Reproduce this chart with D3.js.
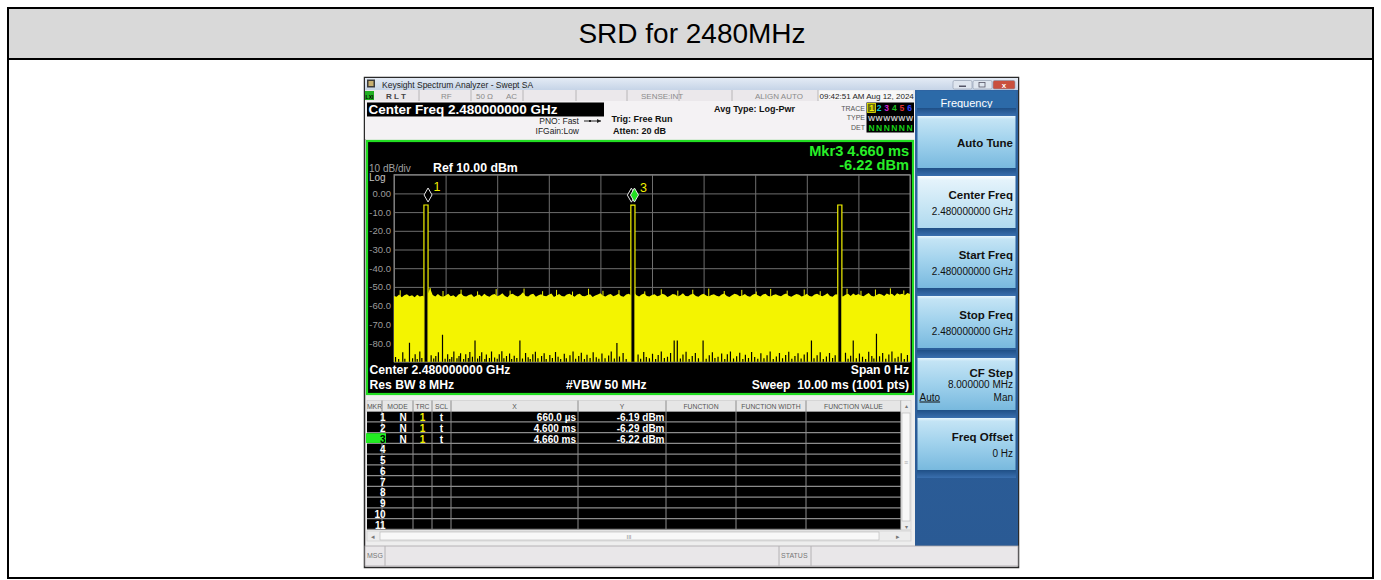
<!DOCTYPE html>
<html>
<head>
<meta charset="utf-8">
<script src="https://cdn.jsdelivr.net/npm/d3@7"></script>
<style>
body { margin: 0; background: #fff; }
svg { display: block; font-family: "Liberation Sans", Arial, sans-serif; }
</style>
</head>
<body>
<svg id="chart" width="1381" height="580"></svg>
<script>
//* Data *//

const pageTitle = "SRD for 2480MHz";

// sweep: 0..10 ms, ref 10 dBm, 10 dB/div
const sweepDomain = [0, 10];
const levelDomain = [-90, 10];
const yTickValues = [0, -10, -20, -30, -40, -50, -60, -70, -80];

// burst pulses (ms) and their level (dBm)
const pulseStart = [0.58, 4.59, 8.60];
const pulseEnd = [0.66, 4.67, 8.68];
const pulseLevel = [-6.19, -6.29, -6.20];

// markers
const markerTime = [0.66, 4.60, 4.66];
const markerLevel = [-6.19, -6.29, -6.22];
const markerXText = ["660.0 \u00b5s", "4.600 ms", "4.660 ms"];
const markerYText = ["-6.19 dBm", "-6.29 dBm", "-6.22 dBm"];

// noise floor top, one value every 0.05 ms (dBm)
const noiseStep = 0.05;
const noiseTop = [
  -54.8,-55.3,-54.1,-55.6,-54.5,-53.9,-55.0,-54.4,-55.5,-54.2,-55.1,-54.7,-55.4,-54.0,-50.9,-54.3,-55.2,-53.8,-54.9,-55.3,
  -54.6,-53.7,-55.0,-54.4,-55.6,-54.1,-53.5,-54.8,-55.2,-54.3,-53.9,-55.4,-54.6,-54.0,-55.1,-53.6,-54.7,-55.3,-54.2,-53.8,
  -55.0,-54.5,-53.4,-54.9,-55.5,-54.0,-53.7,-54.6,-55.2,-54.3,-52.8,-54.8,-55.1,-54.1,-53.6,-55.3,-54.4,-53.9,-54.7,-55.0,
  -54.2,-53.5,-55.4,-54.6,-53.8,-54.9,-55.2,-54.0,-53.7,-54.5,-55.3,-54.1,-53.6,-54.8,-55.0,-54.3,-53.9,-55.4,-54.6,-54.0,
  -53.4,-54.7,-55.2,-54.2,-53.8,-55.0,-54.5,-53.6,-54.9,-55.3,-54.1,-53.7,-54.6,-52.9,-54.4,-55.1,-54.0,-53.5,-54.8,-55.2,
  -54.3,-53.9,-55.0,-54.6,-53.6,-54.2,-55.4,-54.7,-53.8,-54.1,-55.2,-54.5,-53.4,-54.8,-55.0,-54.0,-53.7,-54.9,-55.3,-54.2,
  -53.6,-54.6,-55.1,-54.3,-53.9,-54.7,-55.2,-54.0,-53.5,-54.8,-55.4,-54.4,-53.7,-54.1,-55.0,-54.6,-53.8,-54.9,-55.3,-54.2,
  -53.6,-54.5,-55.1,-54.0,-53.7,-54.8,-55.2,-54.3,-53.9,-54.6,-55.0,-54.1,-53.5,-54.7,-55.3,-54.4,-53.8,-54.2,-55.1,-54.6,
  -53.7,-54.9,-55.2,-54.0,-53.6,-54.5,-55.0,-54.3,-53.4,-54.8,-55.3,-54.1,-53.9,-54.6,-55.1,-54.2,-53.7,-54.9,-53.5,-54.4,
  -53.8,-54.6,-55.0,-54.1,-53.3,-54.7,-55.2,-54.3,-53.6,-54.0,-54.8,-53.5,-54.2,-53.7,-54.9,-53.4,-54.1,-53.6,-54.5,-53.3,
  -53.8
];

// thin spikes poking above the noise top (ms, dBm)
const spikeTime = [0.12,0.70,0.95,1.30,1.62,1.98,2.25,2.52,2.88,3.15,3.46,3.77,4.05,4.36,4.86,5.18,5.50,5.79,6.10,6.40,
  6.74,7.02,7.30,7.62,7.95,8.26,8.78,9.05,9.33,9.62,9.88];
const spikeLevel = [-51.8,-50.6,-52.2,-51.5,-52.4,-51.2,-52.0,-50.9,-52.3,-51.6,-52.5,-51.0,-52.1,-51.7,-52.4,-51.3,-52.0,-51.5,-50.9,-52.2,
  -51.6,-52.5,-51.1,-52.0,-51.4,-52.3,-51.0,-52.1,-51.4,-50.8,-51.9];

// dark gaps at the foot of the noise: time (ms) and top of gap (dBm)
const gapTime = [0.03,0.09,0.17,0.21,0.30,0.36,0.41,0.45,0.50,0.54,0.72,0.77,0.81,0.86,0.94,0.99,1.04,1.08,1.12,1.16,
  1.22,1.26,1.29,1.35,1.39,1.44,1.47,1.52,1.57,1.62,1.66,1.70,1.76,1.79,1.85,1.89,1.95,2.00,2.04,2.09,
  2.13,2.18,2.24,2.28,2.33,2.38,2.44,2.49,2.55,2.60,2.64,2.69,2.74,2.79,2.86,2.91,2.95,3.02,3.07,3.13,
  3.18,3.23,3.30,3.34,3.41,3.47,3.52,3.58,3.63,3.69,3.74,3.80,3.86,3.92,3.97,4.03,4.09,4.16,4.21,4.27,
  4.32,4.37,4.44,4.50,4.73,4.78,4.84,4.89,4.95,5.01,5.07,5.12,5.18,5.24,5.30,5.36,5.43,5.49,5.55,5.60,
  5.66,5.72,5.78,5.84,5.90,5.99,6.05,6.11,6.17,6.22,6.28,6.35,6.41,6.46,6.52,6.58,6.64,6.70,6.76,6.81,
  6.87,6.93,6.99,7.05,7.11,7.17,7.23,7.29,7.35,7.41,7.47,7.53,7.59,7.65,7.71,7.77,7.83,7.89,7.95,8.01,
  8.09,8.14,8.20,8.26,8.32,8.38,8.44,8.50,8.55,8.75,8.80,8.85,8.90,8.96,9.02,9.08,9.14,9.20,9.26,9.30,
  9.35,9.41,9.47,9.53,9.59,9.65,9.71,9.77,9.83,9.89,9.95];
const gapLevel = [-87.5,-88.6,-85,-88.4,-79.8,-88.2,-86,-88.5,-84.5,-88,-86.5,-88.3,-87,-85,-75.6,-88.4,-86,-88.6,-87.5,-84.5,
  -88.2,-87,-85.5,-88.5,-86,-88,-84.8,-87.4,-78.6,-88.3,-87,-85,-88.5,-86.2,-88,-84.6,-87.8,-88.4,-86,-84.4,
  -88.2,-87,-85.6,-88.5,-86.8,-88,-78.6,-88.3,-85.4,-87.6,-88.5,-86,-84.7,-88.2,-87,-85.5,-88.6,-86.4,-88,-84.8,
  -87.3,-88.5,-85.8,-88.2,-86.6,-84.5,-88.4,-87,-85.2,-88.5,-86.3,-88,-84.9,-87.6,-88.4,-85.6,-88.1,-86.7,-84.6,-88.3,
  -80,-87.2,-85.3,-88.5,-86.2,-88.4,-84.8,-87.5,-88.2,-85.7,-88.5,-86.4,-84.6,-88,-87.3,-85.4,-78.6,-78.6,-88.3,-86.1,
  -84.7,-88.5,-87,-85.3,-88.2,-78.6,-88.4,-86.5,-84.9,-88,-87.4,-85.6,-88.5,-86,-84.5,-88.3,-87.1,-85.2,-88.6,-86.3,
  -88,-84.8,-87.5,-88.4,-85.5,-88.2,-86.6,-84.6,-88.5,-87.2,-85.3,-88.1,-86.4,-84.7,-88.4,-87,-85.5,-88.3,-86.1,-84.9,
  -78.6,-88.2,-86.5,-85,-88.5,-87.2,-85.4,-88,-86.6,-85.2,-88.4,-86.8,-78.6,-88.2,-85.6,-87.4,-88.5,-84.7,-86.9,-88.3,
  -75,-87.1,-85.4,-88.4,-86.2,-84.6,-88.1,-87.3,-85.5,-88.5,-86.4];

// marker table
const tableHeaders = ["MKR", "MODE", "TRC", "SCL", "X", "Y", "FUNCTION", "FUNCTION WIDTH", "FUNCTION VALUE"];
const tableEdges = [367, 382, 413, 432, 451, 578, 666, 736, 806, 901];
const tableRows = [1, 2, 3, 4, 5, 6, 7, 8, 9, 10, 11];

// softkeys
const softkeyTitle = ["Auto Tune", "Center Freq", "Start Freq", "Stop Freq", "CF Step", "Freq Offset"];
const softkeyValue = ["", "2.480000000 GHz", "2.480000000 GHz", "2.480000000 GHz", "8.000000 MHz", "0 Hz"];
const softkeyTop = [116, 176, 236, 296, 358, 418];

// status line
const statusText = ["R L T", "RF", "50 \u03a9", "AC", "SENSE:INT", "ALIGN AUTO"];
const statusX = [386, 441, 476, 506, 641, 755];
const statusEdges = [419, 471, 523, 576, 627, 679, 732, 818];

const traceNums = ["1", "2", "3", "4", "5", "6"];
const traceColors = ["#f0f000", "#10c8d0", "#d020d0", "#20c020", "#e03030", "#3040ff"];

//* Chart code *//

const svg = d3.select("#chart");
const defs = svg.append("defs");

function grad(id, stops) {
  const g = defs.append("linearGradient").attr("id", id)
      .attr("x1", 0).attr("y1", 0).attr("x2", 0).attr("y2", 1);
  stops.forEach(function(s) {
    g.append("stop").attr("offset", s[0]).attr("stop-color", s[1]);
  });
}
grad("titlebar", [[0, "#e4ebf5"], [1, "#c6d4e7"]]);
grad("btn", [[0, "#e8f5fc"], [0.06, "#c4e4f5"], [0.5, "#9fd1ec"], [1, "#78b9de"]]);
grad("btnSel", [[0, "#ffffff"], [0.08, "#e4f3fb"], [1, "#b0daef"]]);
grad("panel", [[0, "#2e64a2"], [1, "#2a5a94"]]);
grad("gap", [[0, "#1f4f86"], [1, "#3a6fae"]]);

function label(parent, x, y, str, size, fill, weight, anchor) {
  return parent.append("text")
      .attr("x", x).attr("y", y)
      .attr("font-size", size + "px")
      .attr("fill", fill)
      .attr("font-weight", weight || "normal")
      .attr("text-anchor", anchor || "start")
      .text(str);
}

// page frame + title row
svg.append("rect").attr("x", 8).attr("y", 8).attr("width", 1365).attr("height", 51).attr("fill", "#d9d9d9");
svg.append("rect").attr("x", 8).attr("y", 8).attr("width", 1365).attr("height", 570)
    .attr("fill", "none").attr("stroke", "#000").attr("stroke-width", 2);
svg.append("line").attr("x1", 8).attr("x2", 1373).attr("y1", 59).attr("y2", 59)
    .attr("stroke", "#000").attr("stroke-width", 2);
label(svg, 692, 43, pageTitle, 28, "#000", "normal", "middle");

// analyzer window
const win = svg.append("g");
win.append("rect").attr("x", 364.5).attr("y", 77.5).attr("width", 654).attr("height", 490)
    .attr("fill", "#efedef").attr("stroke", "#2a2a2a").attr("stroke-width", 1.5);

// title bar
win.append("rect").attr("x", 365).attr("y", 78).attr("width", 653).attr("height", 12).attr("fill", "url(#titlebar)");
win.append("rect").attr("x", 367).attr("y", 79.5).attr("width", 8).attr("height", 8).attr("fill", "#3a3a3a");
win.append("rect").attr("x", 368.5).attr("y", 81).attr("width", 5).attr("height", 5).attr("fill", "#c8b070");
label(win, 382, 87.5, "Keysight Spectrum Analyzer - Swept SA", 8.5, "#222");
[[953, "#dfe6ef"], [973, "#dfe6ef"], [993, "#c9503e"]].forEach(function(b, i) {
  win.append("rect").attr("x", b[0]).attr("y", 80.5).attr("width", i === 2 ? 22 : 19).attr("height", 8.5)
      .attr("rx", 1.5).attr("fill", b[1]).attr("stroke", "#8a96a8").attr("stroke-width", 0.6);
});
win.append("rect").attr("x", 959).attr("y", 85.5).attr("width", 7).attr("height", 1.5).attr("fill", "#556");
win.append("rect").attr("x", 979).attr("y", 82.5).attr("width", 6).attr("height", 4.5).attr("fill", "none").attr("stroke", "#556").attr("stroke-width", 0.8);
label(win, 1004, 87.5, "x", 8, "#fff", "bold", "middle");

// status line
win.append("rect").attr("x", 365).attr("y", 90).attr("width", 550).attr("height", 11).attr("fill", "#ebe8eb");
win.append("rect").attr("x", 818).attr("y", 90.5).attr("width", 95).attr("height", 10).attr("fill", "#f7f7f7");
statusEdges.forEach(function(e) {
  win.append("line").attr("x1", e).attr("x2", e).attr("y1", 90).attr("y2", 101).attr("stroke", "#b8b6b8");
});
win.append("rect").attr("x", 365).attr("y", 91).attr("width", 9).attr("height", 9).attr("fill", "#22b022");
label(win, 369.5, 98.5, "LXI", 5, "#000", "bold", "middle");
statusText.forEach(function(s, i) {
  label(win, statusX[i], 98.5, s, 8, i === 0 ? "#444" : "#8a8a8a", i === 0 ? "bold" : "normal");
});
label(win, 819.5, 98.5, "09:42:51 AM Aug 12, 2024", 8, "#222");

// settings row
win.append("rect").attr("x", 365).attr("y", 101).attr("width", 550).attr("height", 38).attr("fill", "#f4f2f4");
win.append("rect").attr("x", 367).attr("y", 102.5).attr("width", 237).attr("height", 14).attr("fill", "#000");
label(win, 368.5, 113.5, "Center Freq 2.480000000 GHz", 13.5, "#fff", "bold");
label(win, 579, 124, "PNO: Fast", 8.5, "#222", "normal", "end");
label(win, 579, 133.5, "IFGain:Low", 8.5, "#222", "normal", "end");
win.append("line").attr("x1", 584).attr("x2", 601).attr("y1", 121).attr("y2", 121).attr("stroke", "#222");
win.append("path").attr("d", "M597,119 L601,121 L597,123 Z").attr("fill", "#222");
win.append("rect").attr("x", 589).attr("y", 120).attr("width", 2).attr("height", 2).attr("fill", "#222");
label(win, 611.5, 121.5, "Trig: Free Run", 9, "#111", "bold");
label(win, 613, 133.5, "Atten: 20 dB", 9, "#111", "bold");
label(win, 714, 111.5, "Avg Type: Log-Pwr", 9, "#111", "bold");

// trace / type / det box
label(win, 865, 110.5, "TRACE", 7, "#555", "normal", "end");
label(win, 865, 120.3, "TYPE", 7, "#555", "normal", "end");
label(win, 865, 130, "DET", 7, "#555", "normal", "end");
win.append("rect").attr("x", 866.5).attr("y", 102.5).attr("width", 47.5).attr("height", 30).attr("fill", "#000");
win.append("rect").attr("x", 867.5).attr("y", 103.5).attr("width", 8).attr("height", 9)
    .attr("fill", "#6a6a10").attr("stroke", "#f0f000").attr("stroke-width", 0.8);
traceNums.forEach(function(n, i) {
  label(win, 871.5 + i * 7.6, 111, n, 8.5, traceColors[i], "bold", "middle");
  label(win, 871.5 + i * 7.6, 120.5, "W", 7.5, "#c8c8c8", "bold", "middle");
  label(win, 871.5 + i * 7.6, 130.5, "N", 8.5, "#18d018", "bold", "middle");
});

//* Graph *//

const graph = win.append("g");
graph.append("rect").attr("x", 367).attr("y", 141).attr("width", 546).attr("height", 253)
    .attr("fill", "#000").attr("stroke", "#22dd22").attr("stroke-width", 2.2);

const plotLeft = 394, plotRight = 910, plotTop = 174.7, plotBottom = 361.7;

const x = d3.scaleLinear().domain(sweepDomain).range([plotLeft, plotRight]);
const y = d3.scaleLinear().domain(levelDomain).range([plotBottom, plotTop]);

defs.append("clipPath").attr("id", "plotClip").append("rect")
    .attr("x", plotLeft).attr("y", plotTop).attr("width", plotRight - plotLeft).attr("height", plotBottom - plotTop);

// gridlines via axes
const xGrid = d3.axisBottom(x).ticks(10).tickSize(-(plotBottom - plotTop)).tickFormat("");
graph.append("g").attr("class", "xgrid")
    .attr("transform", "translate(0," + plotBottom + ")")
    .call(xGrid)
    .call(function(g) { g.select(".domain").remove(); })
    .selectAll("line").attr("stroke", "#6e6e6e");

const yGrid = d3.axisLeft(y).ticks(10).tickSize(-(plotRight - plotLeft)).tickFormat("");
graph.append("g").attr("class", "ygrid")
    .attr("transform", "translate(" + plotLeft + ",0)")
    .call(yGrid)
    .call(function(g) { g.select(".domain").remove(); })
    .selectAll("line").attr("stroke", "#6e6e6e");

graph.append("rect").attr("x", plotLeft).attr("y", plotTop)
    .attr("width", plotRight - plotLeft).attr("height", plotBottom - plotTop)
    .attr("fill", "none").attr("stroke", "#8a8a8a");

// y labels
const yAxisCall = d3.axisLeft(y).tickValues(yTickValues).tickSize(0).tickPadding(3)
    .tickFormat(function(d) { return d === 0 ? "0.00" : d.toFixed(1); });
graph.append("g").attr("class", "y axis")
    .attr("transform", "translate(" + plotLeft + ",0)")
    .call(yAxisCall)
    .call(function(g) { g.select(".domain").remove(); })
    .selectAll("text")
    .attr("fill", "#9c9c9c")
    .attr("font-size", "9.5px")
    .attr("font-family", "Liberation Sans, Arial, sans-serif");

const plot = graph.append("g").attr("clip-path", "url(#plotClip)");

// noise floor
const noiseArea = d3.area()
    .x(function(d, i) { return x(i * noiseStep); })
    .y0(plotBottom + 1)
    .y1(function(d) { return y(d); });
plot.append("path").datum(noiseTop).attr("d", noiseArea).attr("fill", "#f4f400");

// spikes over the noise top
plot.selectAll("line.spike")
    .data(spikeTime)
    .enter().append("line")
    .attr("class", "spike")
    .attr("x1", function(d) { return x(d); })
    .attr("x2", function(d) { return x(d); })
    .attr("y1", y(-56))
    .attr("y2", function(d, i) { return y(spikeLevel[i]); })
    .attr("stroke", "#f4f400")
    .attr("stroke-width", 1);

// gaps at the foot
plot.selectAll("line.gap")
    .data(gapTime)
    .enter().append("line")
    .attr("class", "gap")
    .attr("x1", function(d) { return x(d); })
    .attr("x2", function(d) { return x(d); })
    .attr("y1", plotBottom + 1)
    .attr("y2", function(d, i) { return y(gapLevel[i]); })
    .attr("stroke", "#000")
    .attr("stroke-width", 1.2);

// pulses
pulseStart.forEach(function(t0, i) {
  const x0 = x(t0), x1 = x(pulseEnd[i]), yt = y(pulseLevel[i]);
  plot.append("rect").attr("x", x0).attr("y", yt).attr("width", x1 - x0).attr("height", plotBottom - yt + 1)
      .attr("fill", "#000");
  plot.append("path")
      .attr("d", "M" + x0 + "," + (plotBottom + 1) + " L" + x0 + "," + yt + " L" + x1 + "," + yt + " L" + x1 + "," + (plotBottom + 1))
      .attr("fill", "none").attr("stroke", "#f4f400").attr("stroke-width", 1.2);
});

// markers (label hidden when the next marker sits on top of it)
markerTime.forEach(function(t, i) {
  const cx = x(t), tip = y(markerLevel[i]) - 3;
  graph.append("path")
      .attr("d", "M" + cx + "," + tip + " L" + (cx + 4) + "," + (tip - 7) + " L" + cx + "," + (tip - 14) + " L" + (cx - 4) + "," + (tip - 7) + " Z")
      .attr("fill", i === 2 ? "#20e020" : "#000")
      .attr("stroke", "#e6e6e6")
      .attr("stroke-width", 1);
  const next = markerTime[i + 1];
  if (next !== undefined && x(next) - cx < 8) return;
  label(graph, cx + 5.5, tip - 10.5, String(i + 1), 12.5, "#f0f000", "normal");
});

// graph annotations
label(graph, 369, 171.5, "10 dB/div", 10, "#a0a0a0");
label(graph, 369, 181, "Log", 10, "#c4c4c4");
label(graph, 433, 172, "Ref 10.00 dBm", 12.3, "#fff", "bold");
label(graph, 909, 155.5, "Mkr3 4.660 ms", 14.6, "#28ee28", "bold", "end");
label(graph, 909, 169.5, "-6.22 dBm", 14.6, "#28ee28", "bold", "end");
label(graph, 369.5, 374, "Center 2.480000000 GHz", 12.2, "#fff", "bold");
label(graph, 369.5, 388.5, "Res BW 8 MHz", 12.2, "#fff", "bold");
label(graph, 566, 388.5, "#VBW 50 MHz", 12.2, "#fff", "bold");
label(graph, 909, 374, "Span 0 Hz", 12.2, "#fff", "bold", "end");
label(graph, 909, 388.5, "Sweep\u00a0\u00a010.00 ms (1001 pts)", 12.2, "#fff", "bold", "end");

//* Marker table *//

const table = win.append("g");
const headTop = 400.5, rowTop = 411.7, rowH = 10.75;
const tableBottom = rowTop + rowH * tableRows.length;

table.append("rect").attr("x", 366).attr("y", 396).attr("width", 549).attr("height", 150).attr("fill", "#eeeeee");
table.append("rect").attr("x", 367).attr("y", headTop).attr("width", 534).attr("height", rowTop - headTop)
    .attr("fill", "#e6e6e6").attr("stroke", "#c8c8c8").attr("stroke-width", 0.6);
table.append("rect").attr("x", 367).attr("y", rowTop).attr("width", 534).attr("height", tableBottom - rowTop)
    .attr("fill", "#000");

tableHeaders.forEach(function(h, i) {
  const cx = (tableEdges[i] + tableEdges[i + 1]) / 2;
  label(table, cx, rowTop - 3, h, 6.8, "#555", "normal", "middle");
});

// row lines
tableRows.forEach(function(r, i) {
  table.append("line").attr("x1", 367).attr("x2", 901)
      .attr("y1", rowTop + rowH * (i + 1) - 0.5).attr("y2", rowTop + rowH * (i + 1) - 0.5)
      .attr("stroke", "#8c8c8c").attr("stroke-width", 1.2);
});
tableEdges.forEach(function(e, i) {
  if (i === 0) return;
  table.append("line").attr("x1", e).attr("x2", e).attr("y1", headTop).attr("y2", tableBottom)
      .attr("stroke", "#8c8c8c").attr("stroke-width", 1);
});

// active marker highlight
table.append("rect").attr("x", 366).attr("y", rowTop + rowH * 2).attr("width", 20).attr("height", rowH - 1)
    .attr("fill", "#22ee22");

tableRows.forEach(function(r, i) {
  const base = rowTop + rowH * i + 9.3;
  label(table, 385.5, base, String(r), 10, i === 2 ? "#000" : "#fff", "bold", "end");
  if (i < markerTime.length) {
    label(table, 403, base, "N", 10, "#fff", "bold", "middle");
    label(table, 422.5, base, "1", 10, "#f0f000", "bold", "middle");
    label(table, 441.5, base, "t", 10, "#fff", "bold", "middle");
    label(table, 576, base, markerXText[i], 10, "#fff", "bold", "end");
    label(table, 664.5, base, markerYText[i], 10, "#fff", "bold", "end");
  }
});

// vertical scrollbar
table.append("rect").attr("x", 901).attr("y", headTop).attr("width", 10).attr("height", tableBottom - headTop)
    .attr("fill", "#ececec").attr("stroke", "#c8c8c8").attr("stroke-width", 0.6);
table.append("rect").attr("x", 902).attr("y", 413).attr("width", 8).attr("height", 108)
    .attr("fill", "#f8f8f8").attr("stroke", "#b4b4b4").attr("stroke-width", 0.6);
label(table, 906, 408, "\u25b4", 6, "#777", "normal", "middle");
label(table, 906, 528.5, "\u25be", 6, "#777", "normal", "middle");
label(table, 906, 465, "\u2261", 7, "#aaa", "normal", "middle");

// horizontal scrollbar
table.append("rect").attr("x", 367).attr("y", 531).attr("width", 544).attr("height", 10)
    .attr("fill", "#ececec").attr("stroke", "#c8c8c8").attr("stroke-width", 0.6);
table.append("rect").attr("x", 380).attr("y", 532).attr("width", 499).attr("height", 8)
    .attr("fill", "#f8f8f8").attr("stroke", "#b4b4b4").attr("stroke-width", 0.6);
label(table, 373, 539, "\u25c2", 7, "#777", "normal", "middle");
label(table, 898, 539, "\u25b8", 7, "#777", "normal", "middle");
label(table, 629, 539, "III", 6, "#888", "normal", "middle");

//* Softkey panel *//

const panel = win.append("g");
panel.append("rect").attr("x", 915).attr("y", 90).attr("width", 103).attr("height", 456).attr("fill", "url(#panel)");
panel.append("rect").attr("x", 917).attr("y", 91).attr("width", 99).attr("height", 24).attr("fill", "#2c6aa8");
label(panel, 966.5, 107, "Frequency", 11, "#fff", "normal", "middle");

softkeyTitle.forEach(function(s, i) {
  const top = softkeyTop[i];
  panel.append("rect").attr("x", 917).attr("y", top - 8).attr("width", 99).attr("height", 8).attr("fill", "url(#gap)");
  panel.append("rect").attr("x", 917.5).attr("y", top).attr("width", 98).attr("height", 52)
      .attr("fill", i === 1 ? "url(#btnSel)" : "url(#btn)");
  if (softkeyValue[i] === "") {
    label(panel, 1013, top + 31, s, 11.5, "#111", "bold", "end");
  } else if (s === "CF Step") {
    label(panel, 1013, top + 18.5, s, 11.5, "#111", "bold", "end");
    label(panel, 1013, top + 29.5, softkeyValue[i], 10, "#111", "normal", "end");
    label(panel, 919.5, top + 42.5, "Auto", 10, "#111", "normal").attr("text-decoration", "underline");
    label(panel, 1013, top + 42.5, "Man", 10, "#111", "normal", "end");
  } else {
    label(panel, 1013, top + 23, s, 11.5, "#111", "bold", "end");
    label(panel, 1013, top + 39, softkeyValue[i], 10, "#111", "normal", "end");
  }
});
panel.append("rect").attr("x", 917).attr("y", 470).attr("width", 99).attr("height", 8).attr("fill", "url(#gap)");

//* Bottom status bar *//

win.append("rect").attr("x", 365).attr("y", 546).attr("width", 653).attr("height", 20)
    .attr("fill", "#e9e7e9").attr("stroke", "#a8a6a8").attr("stroke-width", 0.8);
[385, 779, 811].forEach(function(e) {
  win.append("line").attr("x1", e).attr("x2", e).attr("y1", 546).attr("y2", 566).attr("stroke", "#b4b2b4");
});
label(win, 367, 558, "MSG", 7, "#777");
label(win, 781, 558, "STATUS", 7, "#777");
</script>
</body>
</html>
